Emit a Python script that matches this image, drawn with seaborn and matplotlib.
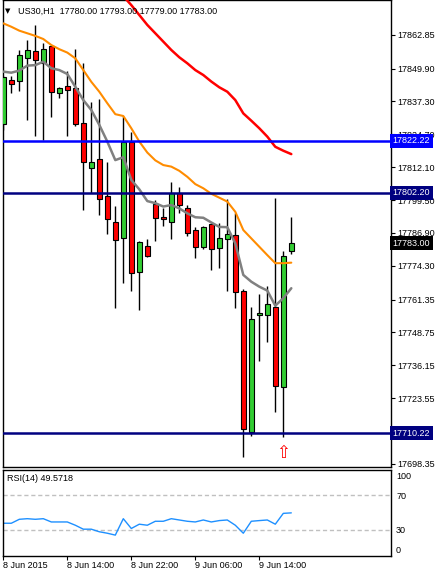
import numpy as np
import pandas as pd
import matplotlib
matplotlib.use("Agg")
import matplotlib.pyplot as plt
import seaborn as sns
from matplotlib.transforms import blended_transform_factory

# ---- data (US30, H1) ----
opens = [17828.6, 17845.5, 17845.1, 17853.9, 17856.6, 17852.0, 17858.5, 17840.5, 17843.2, 17842.4,
         17829.0, 17811.9, 17815.2, 17801.1, 17791.1, 17784.95, 17821.9, 17771.9, 17781.9, 17798.0,
         17793.0, 17791.1, 17802.2, 17796.5, 17788.0, 17781.4, 17790.3, 17781.1, 17784.6, 17786.1,
         17764.8, 17710.75, 17755.3, 17755.3, 17758.5, 17728.0, 17780.0]
highs = [17847.0, 17847.0, 17857.0, 17860.8, 17866.6, 17859.7, 17858.9, 17842.8, 17848.9, 17857.4,
         17852.0, 17837.1, 17838.2, 17814.2, 17797.2, 17831.8, 17825.6, 17783.8, 17784.6, 17799.5,
         17796.5, 17806.5, 17804.6, 17797.6, 17789.2, 17789.6, 17790.7, 17790.7, 17799.9, 17794.6,
         17765.4, 17758.6, 17763.4, 17766.7, 17800.2, 17780.1, 17793.0]
lows = [17826.3, 17840.5, 17841.3, 17830.2, 17824.0, 17822.5, 17831.3, 17838.6, 17824.0, 17827.9,
        17795.7, 17802.2, 17793.8, 17786.5, 17758.1, 17767.8, 17764.8, 17757.4, 17777.7, 17783.9,
        17789.7, 17784.6, 17794.5, 17785.8, 17777.4, 17780.9, 17772.7, 17773.5, 17764.8, 17758.1,
        17701.1, 17709.1, 17737.9, 17745.2, 17718.4, 17708.6, 17779.0]
closes = [17846.6, 17844.0, 17855.1, 17857.0, 17853.2, 17857.4, 17840.9, 17842.4, 17841.7, 17828.6,
          17814.1, 17814.1, 17799.9, 17792.2, 17784.2, 17821.9, 17771.5, 17783.4, 17778.2, 17792.6,
          17792.2, 17802.2, 17797.6, 17786.9, 17781.5, 17789.3, 17780.7, 17785.0, 17786.5, 17764.4,
          17711.7, 17753.9, 17756.3, 17759.7, 17728.4, 17778.1, 17783.0]

ma_fast = [17848.7, 17848.3, 17849.1, 17851.0, 17851.2, 17852.5, 17850.0, 17849.3, 17847.8, 17842.9,
           17837.8, 17834.0, 17828.3, 17821.9, 17814.8, 17815.9, 17807.2, 17803.6, 17799.1, 17798.3,
           17797.0, 17797.6, 17796.3, 17794.4, 17792.9, 17792.7, 17790.9, 17789.2, 17789.1, 17782.9,
           17770.8, 17768.2, 17766.3, 17764.8, 17759.0, 17761.9, 17765.7]
ma_mid = [17867.2, 17865.9, 17864.4, 17863.4, 17862.4, 17861.2, 17858.9, 17857.3, 17856.0, 17853.8,
          17849.3, 17844.8, 17841.0, 17836.6, 17832.4, 17831.7, 17827.0, 17821.9, 17817.7, 17814.7,
          17812.9, 17812.3, 17810.7, 17808.4, 17805.6, 17804.0, 17801.9, 17800.4, 17798.9, 17795.0,
          17788.0, 17784.8, 17781.6, 17778.4, 17775.3, 17775.3, 17775.5]
# slow MA only visible from bar 14 on
ma_slow = [17881.1, 17877.6, 17874.2, 17870.4, 17866.6, 17863.4, 17860.2, 17857.0, 17854.2, 17851.9,
           17849.3, 17847.4, 17844.9, 17842.7, 17841.0, 17837.8, 17832.7, 17829.9, 17827.0, 17823.8,
           17819.9, 17818.4, 17817.1]

rsi = [37.5, 37.5, 42.1, 42.8, 42.1, 42.8, 39.0, 39.0, 39.0, 35.2,
       30.6, 30.6, 27.6, 25.9, 23.7, 42.8, 31.4, 36.4, 35.2, 39.8,
       39.8, 42.8, 41.3, 39.8, 39.0, 41.3, 39.0, 40.6, 41.3, 35.2,
       25.9, 39.8, 40.6, 41.3, 36.4, 49.0, 49.57]

levels = [17822.22, 17802.20, 17710.22]
level_colors = ["#0000FF", "#000080", "#000080"]
price_ticks = [17862.85, 17849.90, 17837.30, 17824.70, 17812.10, 17799.50, 17786.90,
               17774.30, 17761.35, 17748.75, 17736.15, 17723.55, 17698.35]
date_ticks = [0, 8, 16, 24, 32]
date_labels = ["8 Jun 2015", "8 Jun 14:00", "8 Jun 22:00", "9 Jun 06:00", "9 Jun 14:00"]

df = pd.DataFrame({"open": opens, "high": highs, "low": lows, "close": closes})
df["bar"] = np.arange(len(df))

# ---- style ----
sns.set_style("white", rc={"axes.edgecolor": "black", "text.color": "black",
                           "xtick.color": "black", "ytick.color": "black"})
plt.rcParams["font.family"] = ["Liberation Sans", "DejaVu Sans"]
FS = 6.5

W, H = 438, 574
fig = plt.figure(figsize=(W / 100, H / 100), dpi=100)


def rect(l, t, r, b):
    return [l / W, 1 - b / H, (r - l) / W, (b - t) / H]


ax = fig.add_axes(rect(2.5, 0, 390.5, 467))
rax = fig.add_axes(rect(2.5, 469.5, 390.5, 555.5), sharex=ax)

# ---- candles ----
bull = df["close"] >= df["open"]
body_lo = df[["open", "close"]].min(axis=1)
body_h = (df["close"] - df["open"]).abs().clip(lower=0.4)
ax.vlines(df["bar"], df["low"], df["high"], color="black", lw=1, zorder=2)
ax.bar(df["bar"], body_h, bottom=body_lo, width=0.62,
       color=np.where(bull, "#32CD32", "#FF0000"), edgecolor="black", lw=0.8, zorder=3)

# ---- moving averages ----
sns.lineplot(x=df["bar"], y=ma_fast, ax=ax, color="#808080", lw=1.8, zorder=4)
sns.lineplot(x=df["bar"], y=ma_mid, ax=ax, color="#FF8C00", lw=1.5, zorder=4)
sns.lineplot(x=df["bar"].iloc[14:], y=ma_slow, ax=ax, color="#FF0000", lw=1.8, zorder=4)

for lv, c in zip(levels, level_colors):
    ax.axhline(lv, color=c, lw=1.8, zorder=5)

ax.text(35, 17702.5, "\u21e7", color="red", fontsize=12, ha="center", va="center",
        family="DejaVu Sans", zorder=6)

ax.set_xlim(-0.1, 48.4)
ax.set_ylim(17697.2, 17876.15)
ax.set_xlabel("")
ax.set_ylabel("")
ax.yaxis.tick_right()
ax.set_yticks(price_ticks)
ax.set_yticklabels([f"{v:.2f}" for v in price_ticks], fontsize=FS)
ax.tick_params(axis="y", right=True, left=False, length=3, width=0.8, pad=2, direction="out")
ax.tick_params(axis="x", bottom=False, labelbottom=False)

# right-hand price boxes
tr = blended_transform_factory(ax.transAxes, ax.transData)
for val, c in [(17822.22, "#0000FF"), (17802.20, "#000080"), (17783.00, "black"), (17710.22, "#000080")]:
    ax.text(1.006, val, f"{val:.2f}", transform=tr, ha="left", va="center", fontsize=FS,
            color="white", bbox=dict(boxstyle="square,pad=0.3", fc=c, ec="none"),
            clip_on=False, zorder=10)

fig.text(8 / W, 1 - 11 / H, "\u25bc", fontsize=5, family="DejaVu Sans", ha="center", va="center")
fig.text(18 / W, 1 - 11 / H, "US30,H1  17780.00 17793.00 17779.00 17783.00",
         fontsize=FS, ha="left", va="center")

# ---- RSI panel ----
rax.axhline(70, color="#C0C0C0", lw=1, ls=(0, (3, 2)))
rax.axhline(30, color="#C0C0C0", lw=1, ls=(0, (3, 2)))
sns.lineplot(x=df["bar"], y=rsi, ax=rax, color="#1E90FF", lw=1)
rax.set_ylim(0, 100)
rax.set_xlabel("")
rax.set_ylabel("")
rax.yaxis.tick_right()
rax.set_yticks([7.5, 30, 70, 93])
rax.set_yticklabels(["0", "30", "70", "100"], fontsize=FS)
rax.tick_params(axis="y", right=True, left=False, length=0, pad=4)
rax.set_xticks(date_ticks)
rax.set_xticklabels(date_labels, fontsize=FS, ha="left")
rax.tick_params(axis="x", bottom=True, length=3, width=0.8, pad=1, direction="out")
rax.text(0.012, 0.9, "RSI(14) 49.5718", transform=rax.transAxes, fontsize=FS, ha="left", va="center")

for a in (ax, rax):
    for s in a.spines.values():
        s.set_color("black")
        s.set_linewidth(1)

fig.savefig("out.png", dpi=100)
